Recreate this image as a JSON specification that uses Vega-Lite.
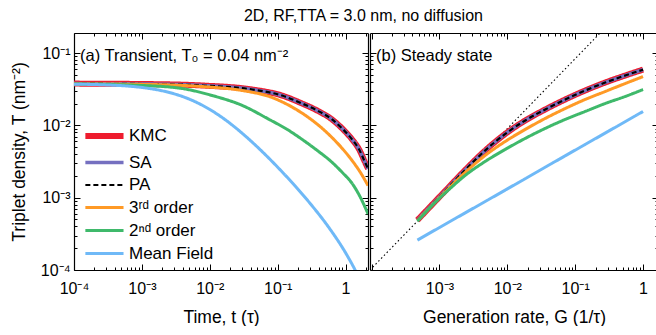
{
  "$schema": "https://vega.github.io/schema/vega-lite/v6.json",
  "padding": {"left": 10, "top": 7, "right": 0, "bottom": 0},
  "config": {
    "font": "Liberation Sans",
    "view": {"stroke": null},
    "axis": {"domainColor": "black", "domainWidth": 1.2, "tickColor": "black", "tickWidth": 1, "labelColor": "black", "titleColor": "black", "labelFontSize": 16, "titleFontSize": 17.5, "titleFontWeight": "normal", "grid": false},
    "title": {"color": "black", "fontWeight": "normal"},
    "concat": {"spacing": 0},
    "legend": {"labelColor": "black"}
  },
  "title": {"text": "2D, RF,TTA = 3.0 nm, no diffusion", "fontSize": 16, "anchor": "middle", "dx": 29, "offset": 9},
  "datasets": {
    "transient": [
      {"s": "KMC", "t": 0.0001, "T": 0.0379}, {"s": "KMC", "t": 0.00143, "T": 0.0373}, {"s": "KMC", "t": 0.00776, "T": 0.0357}, {"s": "KMC", "t": 0.0422, "T": 0.0314}, {"s": "KMC", "t": 0.116, "T": 0.0259}, {"s": "KMC", "t": 0.229, "T": 0.0201}, {"s": "KMC", "t": 0.381, "T": 0.0161}, {"s": "KMC", "t": 0.632, "T": 0.0121}, {"s": "KMC", "t": 0.889, "T": 0.0091}, {"s": "KMC", "t": 1.247, "T": 0.00641}, {"s": "KMC", "t": 1.581, "T": 0.00467}, {"s": "KMC", "t": 1.936, "T": 0.00309}, {"s": "KMC", "t": 2.143, "T": 0.00252},
      {"s": "SA", "t": 0.0001, "T": 0.0379}, {"s": "SA", "t": 0.00143, "T": 0.0373}, {"s": "SA", "t": 0.00776, "T": 0.0357}, {"s": "SA", "t": 0.0422, "T": 0.0314}, {"s": "SA", "t": 0.116, "T": 0.0259}, {"s": "SA", "t": 0.229, "T": 0.0201}, {"s": "SA", "t": 0.381, "T": 0.0161}, {"s": "SA", "t": 0.632, "T": 0.0121}, {"s": "SA", "t": 0.889, "T": 0.0091}, {"s": "SA", "t": 1.247, "T": 0.00641}, {"s": "SA", "t": 1.581, "T": 0.00467}, {"s": "SA", "t": 1.936, "T": 0.00309}, {"s": "SA", "t": 2.143, "T": 0.00252},
      {"s": "PA", "t": 0.0001, "T": 0.0379}, {"s": "PA", "t": 0.00143, "T": 0.0373}, {"s": "PA", "t": 0.00776, "T": 0.0357}, {"s": "PA", "t": 0.0422, "T": 0.0314}, {"s": "PA", "t": 0.116, "T": 0.0259}, {"s": "PA", "t": 0.229, "T": 0.0201}, {"s": "PA", "t": 0.381, "T": 0.0161}, {"s": "PA", "t": 0.632, "T": 0.0121}, {"s": "PA", "t": 0.889, "T": 0.0091}, {"s": "PA", "t": 1.247, "T": 0.00641}, {"s": "PA", "t": 1.581, "T": 0.00467}, {"s": "PA", "t": 1.936, "T": 0.00309}, {"s": "PA", "t": 2.143, "T": 0.00252},
      {"s": "3ʳᵈ order", "t": 0.0001, "T": 0.0376}, {"s": "3ʳᵈ order", "t": 0.00143, "T": 0.0368}, {"s": "3ʳᵈ order", "t": 0.00776, "T": 0.0345}, {"s": "3ʳᵈ order", "t": 0.0301, "T": 0.0304}, {"s": "3ʳᵈ order", "t": 0.083, "T": 0.0243}, {"s": "3ʳᵈ order", "t": 0.163, "T": 0.01795}, {"s": "3ʳᵈ order", "t": 0.29, "T": 0.0127}, {"s": "3ʳᵈ order", "t": 0.451, "T": 0.00914}, {"s": "3ʳᵈ order", "t": 0.632, "T": 0.00679}, {"s": "3ʳᵈ order", "t": 0.889, "T": 0.00483}, {"s": "3ʳᵈ order", "t": 1.247, "T": 0.00327}, {"s": "3ʳᵈ order", "t": 1.633, "T": 0.00228}, {"s": "3ʳᵈ order", "t": 2.143, "T": 0.00147},
      {"s": "2ⁿᵈ order", "t": 0.0001, "T": 0.0374}, {"s": "2ⁿᵈ order", "t": 0.00102, "T": 0.0357}, {"s": "2ⁿᵈ order", "t": 0.00394, "T": 0.0324}, {"s": "2ⁿᵈ order", "t": 0.0109, "T": 0.0259}, {"s": "2ⁿᵈ order", "t": 0.0301, "T": 0.0189}, {"s": "2ⁿᵈ order", "t": 0.075, "T": 0.0121}, {"s": "2ⁿᵈ order", "t": 0.138, "T": 0.00881}, {"s": "2ⁿᵈ order", "t": 0.229, "T": 0.00641}, {"s": "2ⁿᵈ order", "t": 0.381, "T": 0.00452}, {"s": "2ⁿᵈ order", "t": 0.632, "T": 0.00309}, {"s": "2ⁿᵈ order", "t": 0.889, "T": 0.00225}, {"s": "2ⁿᵈ order", "t": 1.247, "T": 0.00158}, {"s": "2ⁿᵈ order", "t": 1.633, "T": 0.001035}, {"s": "2ⁿᵈ order", "t": 2.143, "T": 0.000596},
      {"s": "Mean Field", "t": 0.0001, "T": 0.0372}, {"s": "Mean Field", "t": 0.000316, "T": 0.0363}, {"s": "Mean Field", "t": 0.001, "T": 0.0335}, {"s": "Mean Field", "t": 0.00178, "T": 0.0308}, {"s": "Mean Field", "t": 0.00316, "T": 0.02695}, {"s": "Mean Field", "t": 0.00562, "T": 0.02204}, {"s": "Mean Field", "t": 0.01, "T": 0.01663}, {"s": "Mean Field", "t": 0.0178, "T": 0.01156}, {"s": "Mean Field", "t": 0.0316, "T": 0.00747}, {"s": "Mean Field", "t": 0.0562, "T": 0.00455}, {"s": "Mean Field", "t": 0.1, "T": 0.002644}, {"s": "Mean Field", "t": 0.178, "T": 0.001475}, {"s": "Mean Field", "t": 0.316, "T": 0.000787}, {"s": "Mean Field", "t": 0.562, "T": 0.000392}, {"s": "Mean Field", "t": 1, "T": 0.000173}, {"s": "Mean Field", "t": 1.413, "T": 0.000096}, {"s": "Mean Field", "t": 1.8, "T": 0.0000592}
    ],
    "steady": [
      {"s": "KMC", "G": 0.0004742, "T": 0.0004898}, {"s": "KMC", "G": 0.001225, "T": 0.00125}, {"s": "KMC", "G": 0.00241, "T": 0.002432}, {"s": "KMC", "G": 0.004742, "T": 0.004519}, {"s": "KMC", "G": 0.009354, "T": 0.007638}, {"s": "KMC", "G": 0.01841, "T": 0.01172}, {"s": "KMC", "G": 0.03622, "T": 0.01663}, {"s": "KMC", "G": 0.07129, "T": 0.02286}, {"s": "KMC", "G": 0.1403, "T": 0.03041}, {"s": "KMC", "G": 0.2761, "T": 0.03917}, {"s": "KMC", "G": 0.5433, "T": 0.04898}, {"s": "KMC", "G": 1, "T": 0.05916},
      {"s": "SA", "G": 0.0004742, "T": 0.0004898}, {"s": "SA", "G": 0.001225, "T": 0.00125}, {"s": "SA", "G": 0.00241, "T": 0.002432}, {"s": "SA", "G": 0.004742, "T": 0.004519}, {"s": "SA", "G": 0.009354, "T": 0.007638}, {"s": "SA", "G": 0.01841, "T": 0.01172}, {"s": "SA", "G": 0.03622, "T": 0.01663}, {"s": "SA", "G": 0.07129, "T": 0.02286}, {"s": "SA", "G": 0.1403, "T": 0.03041}, {"s": "SA", "G": 0.2761, "T": 0.03917}, {"s": "SA", "G": 0.5433, "T": 0.04898}, {"s": "SA", "G": 1, "T": 0.05916},
      {"s": "PA", "G": 0.0004742, "T": 0.0004898}, {"s": "PA", "G": 0.001225, "T": 0.00125}, {"s": "PA", "G": 0.00241, "T": 0.002432}, {"s": "PA", "G": 0.004742, "T": 0.004519}, {"s": "PA", "G": 0.009354, "T": 0.007638}, {"s": "PA", "G": 0.01841, "T": 0.01172}, {"s": "PA", "G": 0.03622, "T": 0.01663}, {"s": "PA", "G": 0.07129, "T": 0.02286}, {"s": "PA", "G": 0.1403, "T": 0.03041}, {"s": "PA", "G": 0.2761, "T": 0.03917}, {"s": "PA", "G": 0.5433, "T": 0.04898}, {"s": "PA", "G": 1, "T": 0.05916},
      {"s": "3ʳᵈ order", "G": 0.0004742, "T": 0.0004819}, {"s": "3ʳᵈ order", "G": 0.001225, "T": 0.001211}, {"s": "3ʳᵈ order", "G": 0.00241, "T": 0.002249}, {"s": "3ʳᵈ order", "G": 0.004742, "T": 0.003855}, {"s": "3ʳᵈ order", "G": 0.009354, "T": 0.006012}, {"s": "3ʳᵈ order", "G": 0.01841, "T": 0.00881}, {"s": "3ʳᵈ order", "G": 0.03622, "T": 0.0125}, {"s": "3ʳᵈ order", "G": 0.07129, "T": 0.01714}, {"s": "3ʳᵈ order", "G": 0.1403, "T": 0.02286}, {"s": "3ʳᵈ order", "G": 0.2761, "T": 0.02944}, {"s": "3ʳᵈ order", "G": 0.5433, "T": 0.03793}, {"s": "3ʳᵈ order", "G": 1, "T": 0.04742},
      {"s": "2ⁿᵈ order", "G": 0.0004742, "T": 0.0004742}, {"s": "2ⁿᵈ order", "G": 0.000873, "T": 0.000867}, {"s": "2ⁿᵈ order", "G": 0.001452, "T": 0.001352}, {"s": "2ⁿᵈ order", "G": 0.00241, "T": 0.002042}, {"s": "2ⁿᵈ order", "G": 0.004742, "T": 0.003184}, {"s": "2ⁿᵈ order", "G": 0.009354, "T": 0.004667}, {"s": "2ⁿᵈ order", "G": 0.01841, "T": 0.006622}, {"s": "2ⁿᵈ order", "G": 0.03622, "T": 0.009099}, {"s": "2ⁿᵈ order", "G": 0.07129, "T": 0.01211}, {"s": "2ⁿᵈ order", "G": 0.1403, "T": 0.0156}, {"s": "2ⁿᵈ order", "G": 0.2761, "T": 0.02009}, {"s": "2ⁿᵈ order", "G": 0.5433, "T": 0.02512}, {"s": "2ⁿᵈ order", "G": 1, "T": 0.03141},
      {"s": "Mean Field", "G": 0.0004742, "T": 0.0002594}, {"s": "Mean Field", "G": 0.001718, "T": 0.0005164}, {"s": "Mean Field", "G": 0.009354, "T": 0.001276}, {"s": "Mean Field", "G": 0.05082, "T": 0.00317}, {"s": "Mean Field", "G": 0.2761, "T": 0.007834}, {"s": "Mean Field", "G": 1, "T": 0.0156}
    ],
    "diag": [{"G": 0.000095, "T": 0.0001}, {"G": 0.233, "T": 0.19}]
  },
  "hconcat": [
    {
      "width": 294, "height": 237,
      "title": {"text": "(a) Transient, T₀ = 0.04 nm⁻²", "anchor": "start", "frame": "group", "offset": -32, "dx": 6, "fontSize": 16.5},
      "data": {"name": "transient"},
      "layer": [
        {
          "mark": {"type": "line", "clip": true, "interpolate": "monotone"},
          "encoding": {
            "x": {"field": "t", "type": "quantitative", "scale": {"type": "log", "domain": [0.0001, 2.14], "nice": false},
              "axis": {"orient": "bottom", "title": "Time, t (τ)", "values": [0.0001,0.0002,0.0003,0.0004,0.0005,0.0006,0.0007,0.0008,0.0009,0.001,0.002,0.003,0.004,0.005,0.006,0.007,0.008,0.009,0.01,0.02,0.03,0.04,0.05,0.06,0.07,0.08,0.09,0.1,0.2,0.3,0.4,0.5,0.6,0.7,0.8,0.9,1,2],
                "labelExpr": "abs(log(datum.value)/LN10 - round(log(datum.value)/LN10)) > 0.01 ? '' : (round(log(datum.value)/LN10) == 0 ? '1' : '10⁻' + ['⁰','¹','²','³','⁴','⁵'][-round(log(datum.value)/LN10)])",
                "labelFlush": false, "labelOverlap": false, "labelPadding": 16, "titlePadding": 9,
                "tickSize": {"condition": {"test": "abs(log(datum.value)/LN10 - round(log(datum.value)/LN10)) < 0.01", "value": -6}, "value": -3}}},
            "y": {"field": "T", "type": "quantitative", "scale": {"type": "log", "domain": [0.0001, 0.19], "nice": false},
              "axis": {"orient": "left", "title": "Triplet density, T (nm⁻²)", "values": [0.0001,0.0002,0.0003,0.0004,0.0005,0.0006,0.0007,0.0008,0.0009,0.001,0.002,0.003,0.004,0.005,0.006,0.007,0.008,0.009,0.01,0.02,0.03,0.04,0.05,0.06,0.07,0.08,0.09,0.1],
                "labelExpr": "abs(log(datum.value)/LN10 - round(log(datum.value)/LN10)) > 0.01 ? '' : (round(log(datum.value)/LN10) == 0 ? '1' : '10⁻' + ['⁰','¹','²','³','⁴','⁵'][-round(log(datum.value)/LN10)])",
                "labelFlush": false, "labelOverlap": false, "labelPadding": 10, "titlePadding": 12,
                "tickSize": {"condition": {"test": "abs(log(datum.value)/LN10 - round(log(datum.value)/LN10)) < 0.01", "value": -6}, "value": -3}}},
            "color": {"field": "s", "type": "nominal", "scale": {"domain": ["KMC", "SA", "PA", "3ʳᵈ order", "2ⁿᵈ order", "Mean Field"], "range": ["#ee1c2e", "#7570c0", "#000000", "#ff9a26", "#3fb96b", "#6fb9f7"]},
              "legend": {"orient": "bottom-left", "offset": 8, "title": null, "symbolType": "M-1,0H4", "symbolSize": 233, "labelFontSize": 17, "labelOffset": 25, "rowPadding": 5, "labelColor": "black"}},
            "strokeDash": {"field": "s", "type": "nominal", "scale": {"domain": ["KMC", "SA", "PA", "3ʳᵈ order", "2ⁿᵈ order", "Mean Field"], "range": [[1, 0], [1, 0], [5, 3], [1, 0], [1, 0], [1, 0]]}},
            "strokeWidth": {"field": "s", "type": "nominal", "scale": {"type": "ordinal", "domain": ["KMC", "SA", "PA", "3ʳᵈ order", "2ⁿᵈ order", "Mean Field"], "range": [6, 3.5, 2.2, 3, 3, 3]}}
          }
        },
        {
          "mark": {"type": "line", "opacity": 0},
          "encoding": {
            "x": {"field": "t", "type": "quantitative", "scale": {"type": "log", "domain": [0.0001, 2.14], "nice": false},
              "axis": {"orient": "top", "title": null, "labels": false, "values": [0.0001,0.0002,0.0003,0.0004,0.0005,0.0006,0.0007,0.0008,0.0009,0.001,0.002,0.003,0.004,0.005,0.006,0.007,0.008,0.009,0.01,0.02,0.03,0.04,0.05,0.06,0.07,0.08,0.09,0.1,0.2,0.3,0.4,0.5,0.6,0.7,0.8,0.9,1,2],
                "tickSize": {"condition": {"test": "abs(log(datum.value)/LN10 - round(log(datum.value)/LN10)) < 0.01", "value": -6}, "value": -3}}},
            "y": {"field": "T", "type": "quantitative", "scale": {"type": "log", "domain": [0.0001, 0.19], "nice": false},
              "axis": {"orient": "right", "title": null, "labels": false, "values": [0.0001,0.0002,0.0003,0.0004,0.0005,0.0006,0.0007,0.0008,0.0009,0.001,0.002,0.003,0.004,0.005,0.006,0.007,0.008,0.009,0.01,0.02,0.03,0.04,0.05,0.06,0.07,0.08,0.09,0.1],
                "tickSize": {"condition": {"test": "abs(log(datum.value)/LN10 - round(log(datum.value)/LN10)) < 0.01", "value": -6}, "value": -3}}}
          }
        }
      ],
      "resolve": {"axis": {"x": "independent", "y": "independent"}}
    },
    {
      "width": 288, "height": 237,
      "title": {"text": "(b) Steady state", "anchor": "start", "frame": "group", "offset": -32, "dx": 6, "fontSize": 16.5},
      "layer": [
        {
          "data": {"name": "diag"},
          "mark": {"type": "line", "clip": true, "color": "black", "strokeWidth": 1.1, "strokeDash": [1.5, 2.5]},
          "encoding": {
            "x": {"field": "G", "type": "quantitative", "scale": {"type": "log", "domain": [0.000095, 1.66], "nice": false},
              "axis": {"orient": "bottom", "title": "Generation rate,  G (1/τ)", "values": [0.0001,0.0002,0.0003,0.0004,0.0005,0.0006,0.0007,0.0008,0.0009,0.001,0.002,0.003,0.004,0.005,0.006,0.007,0.008,0.009,0.01,0.02,0.03,0.04,0.05,0.06,0.07,0.08,0.09,0.1,0.2,0.3,0.4,0.5,0.6,0.7,0.8,0.9,1],
                "labelExpr": "abs(log(datum.value)/LN10 - round(log(datum.value)/LN10)) > 0.01 || datum.value < 0.0005 ? '' : (round(log(datum.value)/LN10) == 0 ? '1' : '10⁻' + ['⁰','¹','²','³','⁴','⁵'][-round(log(datum.value)/LN10)])",
                "labelFlush": false, "labelOverlap": false, "labelPadding": 16, "titlePadding": 9,
                "tickSize": {"condition": {"test": "abs(log(datum.value)/LN10 - round(log(datum.value)/LN10)) < 0.01", "value": -6}, "value": -3}}},
            "y": {"field": "T", "type": "quantitative", "scale": {"type": "log", "domain": [0.0001, 0.19], "nice": false},
              "axis": {"orient": "left", "title": null, "labels": false, "values": [0.0001,0.0002,0.0003,0.0004,0.0005,0.0006,0.0007,0.0008,0.0009,0.001,0.002,0.003,0.004,0.005,0.006,0.007,0.008,0.009,0.01,0.02,0.03,0.04,0.05,0.06,0.07,0.08,0.09,0.1],
                "tickSize": {"condition": {"test": "abs(log(datum.value)/LN10 - round(log(datum.value)/LN10)) < 0.01", "value": -6}, "value": -3}}}
          }
        },
        {
          "data": {"name": "steady"},
          "mark": {"type": "line", "clip": true, "interpolate": "monotone"},
          "encoding": {
            "x": {"field": "G", "type": "quantitative", "scale": {"type": "log", "domain": [0.000095, 1.66], "nice": false},
              "axis": {"orient": "top", "title": null, "labels": false, "values": [0.0001,0.0002,0.0003,0.0004,0.0005,0.0006,0.0007,0.0008,0.0009,0.001,0.002,0.003,0.004,0.005,0.006,0.007,0.008,0.009,0.01,0.02,0.03,0.04,0.05,0.06,0.07,0.08,0.09,0.1,0.2,0.3,0.4,0.5,0.6,0.7,0.8,0.9,1],
                "tickSize": {"condition": {"test": "abs(log(datum.value)/LN10 - round(log(datum.value)/LN10)) < 0.01", "value": -6}, "value": -3}}},
            "y": {"field": "T", "type": "quantitative", "scale": {"type": "log", "domain": [0.0001, 0.19], "nice": false},
              "axis": {"orient": "right", "title": null, "labels": false, "values": [0.0001,0.0002,0.0003,0.0004,0.0005,0.0006,0.0007,0.0008,0.0009,0.001,0.002,0.003,0.004,0.005,0.006,0.007,0.008,0.009,0.01,0.02,0.03,0.04,0.05,0.06,0.07,0.08,0.09,0.1],
                "tickSize": {"condition": {"test": "abs(log(datum.value)/LN10 - round(log(datum.value)/LN10)) < 0.01", "value": -6}, "value": -3}}},
            "color": {"field": "s", "type": "nominal", "scale": {"domain": ["KMC", "SA", "PA", "3ʳᵈ order", "2ⁿᵈ order", "Mean Field"], "range": ["#ee1c2e", "#7570c0", "#000000", "#ff9a26", "#3fb96b", "#6fb9f7"]}, "legend": null},
            "strokeDash": {"field": "s", "type": "nominal", "scale": {"domain": ["KMC", "SA", "PA", "3ʳᵈ order", "2ⁿᵈ order", "Mean Field"], "range": [[1, 0], [1, 0], [5, 3], [1, 0], [1, 0], [1, 0]]}, "legend": null},
            "strokeWidth": {"field": "s", "type": "nominal", "scale": {"type": "ordinal", "domain": ["KMC", "SA", "PA", "3ʳᵈ order", "2ⁿᵈ order", "Mean Field"], "range": [6, 3.5, 2.2, 3, 3, 3]}, "legend": null}
          }
        }
      ],
      "resolve": {"axis": {"x": "independent", "y": "independent"}}
    }
  ],
  "resolve": {
    "scale": {"color": "independent", "strokeDash": "independent", "strokeWidth": "independent", "x": "independent", "y": "independent"},
    "legend": {"color": "independent", "strokeDash": "independent", "strokeWidth": "independent"}
  }
}
